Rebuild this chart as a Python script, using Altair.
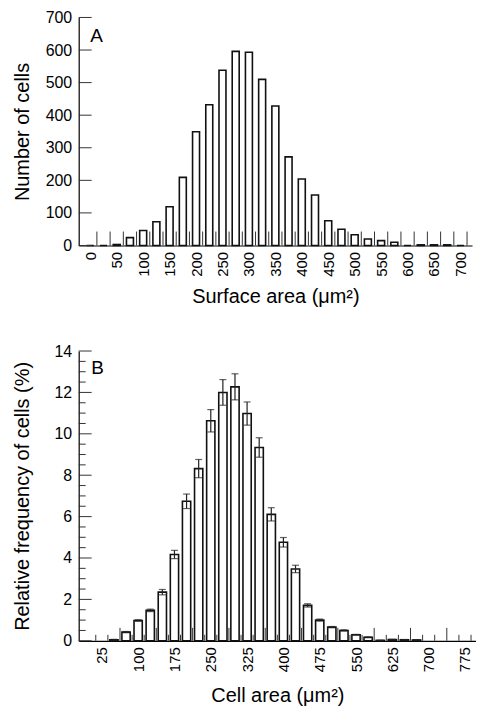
import altair as alt
import pandas as pd

FONT = "Liberation Sans"

# ---------------- Panel A data ----------------
a_centers = [0, 25, 50, 75, 100, 125, 150, 175, 200, 225, 250, 275, 300, 325, 350,
             375, 400, 425, 450, 475, 500, 525, 550, 575, 600, 625, 650, 675, 700]
a_counts = [0, 0, 3, 24, 46, 73, 119, 209, 349, 432, 538, 596, 593, 510, 428,
            272, 204, 155, 76, 50, 33, 20, 15, 10, 0, 2, 2, 2, 0]
a_label_values = [0, 50, 100, 150, 200, 250, 300, 350, 400, 450, 500, 550, 600, 650, 700]
a_y_ticks = [0, 100, 200, 300, 400, 500, 600, 700]

# ---------------- Panel B data ----------------
b_centers = [50, 75, 100, 125, 150, 175, 200, 225, 250, 275, 300, 325, 350, 375,
             400, 425, 450, 475, 500, 525, 550, 575, 600, 625, 650, 675]
b_freq = [0.05, 0.42, 0.98, 1.47, 2.35, 4.17, 6.74, 8.32, 10.63, 12.0, 12.27, 10.98, 9.34, 6.11,
          4.76, 3.47, 1.71, 1.0, 0.66, 0.5, 0.29, 0.17, 0.02, 0.06, 0.05, 0.04]
b_err = [0.02, 0.03, 0.04, 0.06, 0.13, 0.2, 0.35, 0.44, 0.54, 0.62, 0.63, 0.56, 0.47, 0.32,
         0.23, 0.18, 0.08, 0.05, 0.03, 0.03, 0.02, 0.02, 0.01, 0.01, 0.01, 0.01]
b_label_values = [25, 100, 175, 250, 325, 400, 475, 550, 625, 700, 775]
b_bin_edges = [12.5, 37.5, 62.5, 87.5, 112.5, 137.5, 162.5, 187.5, 212.5, 237.5, 262.5,
               287.5, 312.5, 337.5, 362.5, 387.5, 412.5, 437.5, 462.5, 487.5, 512.5, 537.5,
               562.5, 587.5, 612.5, 637.5, 662.5, 687.5, 712.5, 737.5, 762.5, 787.5]
b_y_major = [0, 2, 4, 6, 8, 10, 12, 14]
b_y_minor = [0.5, 1, 1.5, 2.5, 3, 3.5, 4.5, 5, 5.5, 6.5, 7, 7.5, 8.5, 9, 9.5,
             10.5, 11, 11.5, 12.5, 13, 13.5]

panel_labels = ["A", "B"]


def xenc(field, domain, values, title, tpad):
    return alt.X(field, type="quantitative",
                 scale=alt.Scale(domain=domain, nice=False, zero=False),
                 axis=alt.Axis(values=values, labelAngle=270, labelAlign="right",
                               labelBaseline="middle", ticks=False, grid=False,
                               labelPadding=6, labelFontSize=15, labelFlush=False,
                               labelOverlap=False, tickCount=len(values),
                               title=title, titleFontSize=20, titlePadding=tpad))


def yenc(field, domain, values, title, tpad):
    return alt.Y(field, type="quantitative",
                 scale=alt.Scale(domain=domain, nice=False),
                 axis=alt.Axis(values=values, ticks=False, grid=False, labelPadding=7,
                               labelFontSize=16, labelOverlap=False, labelFlush=False,
                               tickCount=len(values),
                               title=title, titleFontSize=20, titlePadding=tpad))


# ---------------- Panel A ----------------
A_W, A_H = 395, 229
A_DOM_X = [-12.5, 712.5]
A_DOM_Y = [0, 700]
A_XT = "Surface area (μm²)"
A_YT = "Number of cells"
a_df = pd.DataFrame({"center": a_centers, "count": a_counts})
a_edges = pd.DataFrame({"edge": [c + 12.5 for c in a_centers]})
a_yt = pd.DataFrame({"v": a_y_ticks})


def ax(field):
    return xenc(field, A_DOM_X, a_label_values, A_XT, 10)


def ay(field):
    return yenc(field, A_DOM_Y, a_y_ticks, A_YT, 13)


bars_a = alt.Chart(a_df).mark_bar(size=7, fill="white", stroke="#111",
                                  strokeWidth=1.6).encode(x=ax("center"), y=ay("count"))
xt_a = alt.Chart(a_edges).mark_rule(color="#333", strokeWidth=1).encode(
    x=ax("edge"), y=alt.value(A_H), y2=alt.value(A_H - 14))
yt_a = alt.Chart(a_yt).mark_rule(color="#333", strokeWidth=1).encode(
    y=ay("v"), x=alt.value(0), x2=alt.value(13))
lab_a = alt.Chart(pd.DataFrame({"t": [panel_labels[0]]})).mark_text(
    font=FONT, fontSize=19, align="center", baseline="middle", color="#000").encode(
    text="t:N", x=alt.value(18), y=alt.value(19))

panel_a = alt.layer(bars_a, xt_a, yt_a, lab_a).properties(width=A_W, height=A_H)

# ---------------- Panel B ----------------
B_W, B_H = 399, 291
B_DOM_X = [-12.5, 787.5]
B_DOM_Y = [0, 14]
B_XT = "Cell area (μm²)"
B_YT = "Relative frequency of cells (%)"
b_df = pd.DataFrame({"center": b_centers, "freq": b_freq, "err": b_err})
b_df["lo"] = b_df["freq"] - b_df["err"]
b_df["hi"] = b_df["freq"] + b_df["err"]
b_tall = pd.DataFrame({"edge": [e for e in b_bin_edges if (e - 62.5) % 75 == 0]})
b_short = pd.DataFrame({"edge": [e for e in b_bin_edges if (e - 62.5) % 75 != 0]})
b_maj = pd.DataFrame({"v": b_y_major})
b_min = pd.DataFrame({"v": b_y_minor})


def bx(field):
    return xenc(field, B_DOM_X, b_label_values, B_XT, 14)


def by(field):
    return yenc(field, B_DOM_Y, b_y_major, B_YT, 22)


bars_b = alt.Chart(b_df).mark_bar(size=8.3, fill="white", stroke="#111",
                                  strokeWidth=1.6).encode(x=bx("center"), y=by("freq"))
err_b = alt.Chart(b_df).mark_rule(color="#222", strokeWidth=1.2).encode(
    x=bx("center"), y=by("lo"), y2="hi:Q")
cap_hi = alt.Chart(b_df).mark_tick(color="#222", thickness=1.2, size=7,
                                   orient="horizontal").encode(x=bx("center"), y=by("hi"))
cap_lo = alt.Chart(b_df).mark_tick(color="#222", thickness=1.2, size=7,
                                   orient="horizontal").encode(x=bx("center"), y=by("lo"))
xt_tall = alt.Chart(b_tall).mark_rule(color="#333", strokeWidth=1).encode(
    x=bx("edge"), y=alt.value(B_H), y2=alt.value(B_H - 13))
xt_short = alt.Chart(b_short).mark_rule(color="#333", strokeWidth=1).encode(
    x=bx("edge"), y=alt.value(B_H), y2=alt.value(B_H - 6))
yt_maj = alt.Chart(b_maj).mark_rule(color="#333", strokeWidth=1).encode(
    y=by("v"), x=alt.value(0), x2=alt.value(13))
yt_min = alt.Chart(b_min).mark_rule(color="#333", strokeWidth=1).encode(
    y=by("v"), x=alt.value(0), x2=alt.value(7))
lab_b = alt.Chart(pd.DataFrame({"t": [panel_labels[1]]})).mark_text(
    font=FONT, fontSize=19, align="center", baseline="middle", color="#000").encode(
    text="t:N", x=alt.value(19), y=alt.value(17))

panel_b = alt.layer(bars_b, err_b, cap_hi, cap_lo, xt_tall, xt_short, yt_maj, yt_min,
                    lab_b).properties(width=B_W, height=B_H)

chart = alt.vconcat(panel_a, panel_b, spacing=36).properties(
    padding={"left": 4, "top": 0, "right": 0, "bottom": 0}
).configure_view(stroke=None).configure_axis(
    labelFont=FONT, titleFont=FONT, titleFontWeight="normal",
    domainColor="#000", domainWidth=1.2, labelColor="#000", titleColor="#000"
)

chart.save("out.html", embed_options={"renderer": "svg", "actions": False})
